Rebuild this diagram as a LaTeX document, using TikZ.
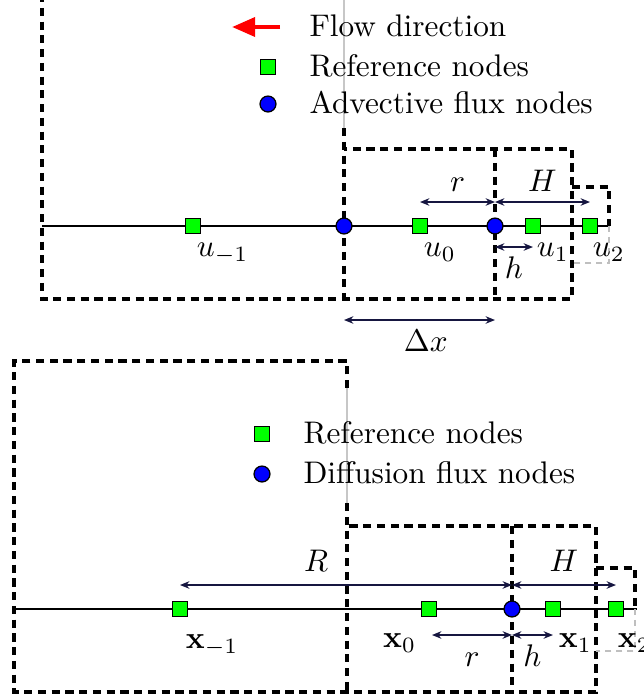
\documentclass[tikz,border=0pt]{standalone}
\usepackage{amsmath}
\usepackage{tikz}
\usetikzlibrary{arrows.meta, positioning, calc}
\tikzset{>=Stealth}
\definecolor{dimline}{RGB}{22,22,64}

\begin{document}
\begin{tikzpicture}[x=0.32pt, y=-0.32pt, line width=0.5pt,
    cell/.style={line width=1.05pt, dash pattern=on 2.6pt off 1.8pt},
    faded/.style={black!22, line width=0.5pt},
    fadedcell/.style={black!25, line width=0.45pt, dash pattern=on 2pt off 1.5pt},
    refnode/.style={rectangle, draw, fill=green, minimum size=4.9pt, inner sep=0pt, line width=0.4pt},
    fluxnode/.style={circle, draw, fill=blue, minimum size=5.1pt, inner sep=0pt, line width=0.4pt},
    dim/.style={{Stealth[length=3pt, width=2.4pt]}-{Stealth[length=3pt, width=2.4pt]}, dimline, line width=0.5pt},
    dimtxt/.style={text=black, text height=1.6ex, text depth=0pt, inner sep=3pt},
    lbl/.style={inner sep=1pt},
    legtxt/.style={text height=1.6ex, text depth=0.25ex, inner sep=0pt},
    flow/.style={-{Triangle[length=7.4pt, width=6pt]}, red, line width=1.4pt}]

    \useasboundingbox (0,0) rectangle (644,700);

    % ---- oben: advektiver Fluss ----
    \coordinate (aL) at (42,226);
    \coordinate (aR) at (608,226);
    \draw (aL) -- (aR);

    % Zellen
    \draw[cell] (42,-6) -- (42,299) -- (572,299) -- (572,149) -- (344,149);
    \draw[cell] (344,128) -- (344,299);
    \draw[cell] (495,149) -- (495,299);
    \draw[cell] (572,187) -- (609,187) -- (609,226);
    \draw[fadedcell] (609,226) -- (609,263) -- (572,263);
    \draw[faded] (344,0) -- (344,128);

    % Knoten
    \node[refnode] (um1) at (193,226) {};
    \node[fluxnode] (fa) at (344,226) {};
    \node[refnode] (u0) at (420,226) {};
    \node[fluxnode] (fb) at (495,226) {};
    \node[refnode] (u1) at (533,226) {};
    \node[refnode] (u2) at (590,226) {};

    \node[lbl, anchor=north west] (lum1) at ($(um1)+(0,13)$) {$u_{-1}$};
    \node[lbl, anchor=north west] (lu0) at ($(u0)+(0,13)$) {$u_0$};
    \node[lbl, anchor=north west] (lu1) at ($(u1)+(0,13)$) {$u_1$};
    \node[lbl, anchor=north west] (lu2) at ($(u2)+(-1,13)$) {$u_2$};

    % Abstaende
    \draw[dim] ($(u0)+(0,-24)$) -- node[dimtxt, above] {$r$} ($(fb)+(0,-24)$);
    \draw[dim] ($(fb)+(0,-24)$) -- node[dimtxt, above] {$H$} ($(u2)+(0,-24)$);
    \draw[dim] ($(fb)+(0,21)$) -- node[dimtxt, below] {$h$} ($(u1)+(0,21)$);
    \draw[dim] ($(fa)+(0,94)$) -- node[dimtxt, below, xshift=2pt] {$\Delta x$} ($(fb)+(0,94)$);

    % Legende
    \coordinate (flA) at (280,27);
    \coordinate (flB) at (232,27);
    \draw[flow] (flA) -- (flB);
    \node[refnode] (lsq) at (268,67) {};
    \node[fluxnode] (lci) at (268,104) {};
    \node[legtxt, right=10.4pt of lsq] (tref) {Reference nodes};
    \node[legtxt, anchor=west] (tflow) at (tref.west |- flA) {Flow direction};
    \node[legtxt, anchor=west] (tadv) at (tref.west |- lci) {Advective flux nodes};

    % ---- unten: diffusiver Fluss ----
    \coordinate (bL) at (14,609);
    \coordinate (bR) at (637,609);
    \draw (bL) -- (bR);

    % Zellen
    \draw[cell] (347,388) -- (347,361) -- (14,361) -- (14,692) -- (596,692) -- (596,526) -- (347,526);
    \draw[cell] (347,503) -- (347,692);
    \draw[cell] (512,526) -- (512,692);
    \draw[cell] (596,568) -- (635,568) -- (635,609);
    \draw[fadedcell] (635,609) -- (635,651) -- (596,651);
    \draw[faded] (347,388) -- (347,503);

    % Knoten
    \node[refnode] (xm1) at (180,609) {};
    \node[refnode] (x0) at (429,609) {};
    \node[fluxnode] (fc) at (512,609) {};
    \node[refnode] (x1) at (553,609) {};
    \node[refnode] (x2) at (616,609) {};

    \node[lbl, anchor=north west] (lxm1) at ($(xm1)+(2,22)$) {$\mathbf{x}_{-1}$};
    \node[lbl, anchor=north east] (lx0) at ($(x0)+(-9,21)$) {$\mathbf{x}_0$};
    \node[lbl, anchor=north west] (lx1) at ($(x1)+(2,21)$) {$\mathbf{x}_1$};
    \node[lbl, anchor=north west] (lx2) at ($(x2)+(-2,21)$) {$\mathbf{x}_2$};

    % Abstaende
    \draw[dim] ($(xm1)+(0,-24)$) -- node[dimtxt, above=1.2pt, pos=0.41] {$R$} ($(fc)+(0,-24)$);
    \draw[dim] ($(fc)+(0,-24)$) -- node[dimtxt, above=1.2pt] {$H$} ($(x2)+(0,-24)$);
    \draw[dim] ($(x0)+(3,26)$) -- node[dimtxt, below] {$r$} ($(fc)+(0,26)$);
    \draw[dim] ($(fc)+(0,26)$) -- node[dimtxt, below] {$h$} ($(x1)+(0,26)$);

    % Legende
    \node[refnode] (lsq2) at (262,434) {};
    \node[fluxnode] (lci2) at (262,474) {};
    \node[legtxt, right=10.4pt of lsq2] (tref2) {Reference nodes};
    \node[legtxt, anchor=west] (tdif) at (tref2.west |- lci2) {Diffusion flux nodes};

\end{tikzpicture}
\end{document}
